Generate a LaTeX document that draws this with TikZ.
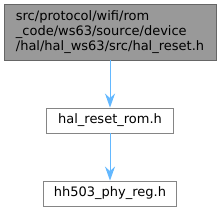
\documentclass[tikz,border=0pt]{standalone}
\usepackage{fontspec}
\setmainfont{DejaVu Sans}
\usetikzlibrary{positioning,arrows.meta}
\definecolor{edgeblue}{HTML}{63B8FF}
\definecolor{curfill}{HTML}{999999}
\definecolor{curdraw}{HTML}{666666}
\tikzset{
  filebox/.style={draw=curdraw!80,fill=white,line width=0.9pt,inner xsep=5pt,minimum height=25pt,font=\fontsize{13}{15}\selectfont},
  curbox/.style={filebox,fill=curfill,draw=curdraw,align=left,minimum width=212pt,minimum height=56pt},
  dep/.style={-{Stealth[length=14pt,width=10pt]},edgeblue,line width=0.9pt}
}
\begin{document}
\begin{tikzpicture}[x=1pt,y=-1pt]
  \useasboundingbox (0,0) rectangle (221,212);
  \node[curbox] (reset) at (110,32) {src/protocol/wifi/rom\\\_code/ws63/source/device\\/hal/hal\_ws63/src/hal\_reset.h}; %現在のファイル
  \node[filebox,minimum width=127pt] (resetrom) at (110,120.5) {hal\_reset\_rom.h};
  \node[filebox,minimum width=133pt] (phyreg) at (110,193.5) {hh503\_phy\_reg.h};
  \draw[dep] (reset) -- (resetrom);
  \draw[dep] (resetrom) -- (phyreg);
\end{tikzpicture}
\end{document}
